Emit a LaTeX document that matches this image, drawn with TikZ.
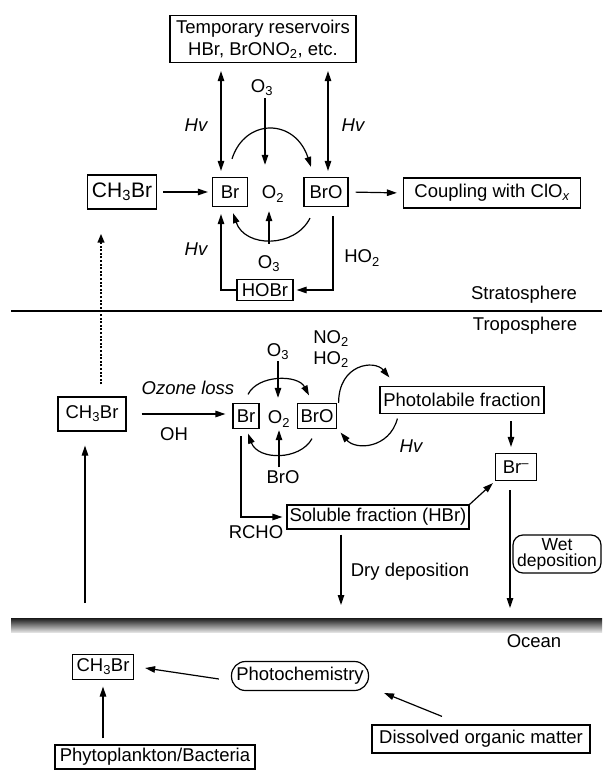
\documentclass[tikz,border=0pt]{standalone}
\usepackage{fontspec}
\setmainfont{Liberation Sans}
\usetikzlibrary{arrows.meta,calc}
\begin{document}
\begin{tikzpicture}[x=1pt,y=-1pt,
  font=\fontsize{18.5}{22}\selectfont,
  every node/.style={inner sep=0pt},
  bx/.style={draw, line width=1.2pt, align=center},
  ln/.style={line width=1.2pt},
  arr/.style={ln, -{Triangle[length=10pt,width=6.5pt]}},
  dbl/.style={ln, {Triangle[length=10pt,width=6.5pt]}-{Triangle[length=10pt,width=6.5pt]}},
  dots/.style={line width=2.2pt, dash pattern=on 2pt off 1.6pt, -{Triangle[length=9pt,width=6.5pt]}},
]
\useasboundingbox (0,0) rectangle (602,770);

% ---------- Stratosphere ----------
\node[bx,minimum width=186pt,minimum height=47pt] (res) at (263,39) {Temporary reservoirs\\HBr, BrONO\textsubscript{2}, etc.};
\node[bx,minimum width=69pt,minimum height=34pt,font=\fontsize{21}{24}\selectfont] (ch3s) at (122,192) {CH\textsubscript{3}Br};
\node[bx,minimum width=35pt,minimum height=29pt] (br) at (230,192) {Br};
\node (o2s) at (273,194) {O\textsubscript{2}};
\node[bx,minimum width=44pt,minimum height=29pt] (bro) at (326,192) {BrO};
\node[bx,minimum width=177pt,minimum height=30pt] (coup) at (492,193) {Coupling with ClO\textsubscript{\itshape x}};
\node (o3a) at (262,88) {O\textsubscript{3}};
\node (hv1) at (196,125) {\itshape Hv};
\node (hv2) at (353,125) {\itshape Hv};
\node (o3b) at (269,264) {O\textsubscript{3}};
\node (hv3) at (196,249) {\itshape Hv};
\node (ho2) at (362,258) {HO\textsubscript{2}};
\node[bx,minimum width=56pt,minimum height=21pt] (hobr) at (265,290) {HOBr};
\node (strat) at (524,295) {Stratosphere};
\node (trop) at (525,326) {Troposphere};

\coordinate (bl) at ([xshift=-9pt]br.north);
\draw[dbl, shorten <=6pt, shorten >=8pt] (bl) -- (bl |- res.south);
\coordinate (brr) at ([xshift=2pt]bro.north);
\draw[dbl, shorten <=6pt, shorten >=8pt] (brr) -- (brr |- res.south);
\coordinate (o3x) at ([xshift=3pt]o3a.south);
\draw[arr, shorten <=2pt, shorten >=21pt] (o3x) -- (o3x |- o2s.north);
\draw[arr] ([xshift=2pt,yshift=18pt]br.north) .. controls +(13,-41) and +(-16,-49) .. ([xshift=-15pt,yshift=10pt]bro.north);
\draw[arr] ([xshift=-16pt,yshift=-11pt]bro.south) .. controls +(-15,30) and +(12,35) .. ([xshift=3pt,yshift=-6pt]br.south);
\coordinate (o3y) at (o3b.north);
\draw[arr, shorten <=12pt, shorten >=9pt] (o3y) -- (o3y |- o2s.south);
\draw[arr, shorten <=6pt, shorten >=4pt] (ch3s.east) -- (br.west);
\draw[arr, shorten <=7pt, shorten >=6pt] (bro.east) -- (coup.west);
\coordinate (bl2) at ([xshift=-9pt]br.south);
\draw[arr, shorten >=7pt] (hobr.west) -| (bl2);
\coordinate (br2) at ([xshift=7pt]bro.south);
\draw[arr, shorten <=9pt, shorten >=3pt] (br2) |- (hobr.east);

\coordinate (sl) at (11,311);
\coordinate (sr) at (602,311);
\draw[ln] (sl) -- (sr);

% ---------- Troposphere ----------
\node[bx,minimum width=68pt,minimum height=34pt] (ch3t) at (92,414) {CH\textsubscript{3}Br};
\node[bx,minimum width=26pt,minimum height=25pt] (brt) at (246,416) {Br};
\node (o2t) at (279,419) {O\textsubscript{2}};
\node[bx,minimum width=39pt,minimum height=25pt] (brot) at (317,416) {BrO};
\node (o3c) at (278,352) {O\textsubscript{3}};
\node[align=center,font=\fontsize{18.5}{21}\selectfont] (nho) at (331,349) {NO\textsubscript{2}\\HO\textsubscript{2}};
\node (oz) at (188,388) {\itshape Ozone loss};
\node (oh) at (174,434) {OH};
\node[bx,minimum width=164pt,minimum height=27pt] (photo) at (462,400) {Photolabile fraction};
\node (hv4) at (411,446) {\itshape Hv};
\node[bx,minimum width=41pt,minimum height=27pt] (brm) at (516,467) {Br\textsuperscript{–}};
\node (brol) at (283,477) {BrO};
\node[bx,minimum width=182pt,minimum height=24pt] (sol) at (378,517) {Soluble fraction (HBr)};
\node (rcho) at (256,532) {RCHO};
\node (dry) at (410,572) {Dry deposition};
\node[bx,rounded corners=10pt,minimum width=88pt,minimum height=38pt,font=\fontsize{17.5}{16}\selectfont] (wet) at (557,554) {Wet\\deposition};

\draw[arr, shorten <=15pt, shorten >=7pt] (ch3t.east) -- (ch3t.east -| brt.west);
\draw[arr] ([xshift=2pt,yshift=8.5pt]brt.north) .. controls +(10,-20) and +(-11,-21) .. ([xshift=-8pt,yshift=7.5pt]brot.north);
\draw[arr, shorten <=1pt, shorten >=13pt] (o3c.south) -- (o3c.south |- o2t.north);
\draw[arr] ([xshift=1.5pt]brot.north east) .. controls +(0,-39) and +(-15,-18) .. ([xshift=10pt,yshift=8.5pt]photo.north west);
\draw[arr] ([xshift=18pt,yshift=-4.5pt]photo.south west) .. controls +(-8,30) and +(15,18) .. ([xshift=3.5pt,yshift=-3.5pt]brot.south east);
\draw[arr] ([xshift=-5pt,yshift=-9.5pt]brot.south) .. controls +(-12,22) and +(10,27) .. ([xshift=2pt,yshift=-4.5pt]brt.south);
\coordinate (bu) at ([xshift=-4pt]brol.north);
\draw[arr, shorten <=3pt, shorten >=3pt] (bu) -- (bu |- o2t.south);
\coordinate (bd) at ([xshift=-5pt]brt.south);
\draw[arr, shorten <=7pt, shorten >=4pt] (bd) |- (sol.west);
\draw[arr] (sol.north east) -- ([xshift=-2pt,yshift=-2pt]brm.south west);
\coordinate (pd) at ([xshift=49pt]photo.south);
\draw[arr, shorten <=7pt, shorten >=6pt] (pd) -- (pd |- brm.north);
\coordinate (dryend) at (341,605);
\draw[arr, shorten <=5pt] (sol.south -| dryend) -- (dryend);
\coordinate (wetend) at (510,608);
\draw[arr, shorten <=9pt] (brm.south -| wetend) -- (wetend);
\coordinate (upst) at (85,603);
\draw[arr, shorten >=14pt] (upst) -- (upst |- ch3t.south);
\coordinate (dt) at ([xshift=9pt]ch3t.north);
\draw[dots, shorten <=12pt, shorten >=24pt] (dt) -- (dt |- ch3s.south);

% ---------- Ocean ----------
\shade[top color=black!90, bottom color=black!12] (11,618) rectangle (602,632);
\node (ocean) at (534,641) {Ocean};
\node[bx,minimum width=61pt,minimum height=25pt] (ch3o) at (103,667) {CH\textsubscript{3}Br};
\node[bx,rounded corners=14pt,minimum width=137pt,minimum height=29pt] (pc) at (300,676) {Photochemistry};
\node[bx,minimum width=218pt,minimum height=28pt] (dom) at (481,739) {Dissolved organic matter};
\node[bx,minimum width=200pt,minimum height=24pt] (phyto) at (155,757) {Phytoplankton/Bacteria};

\draw[arr] ([xshift=-12pt,yshift=-3pt]pc.west) -- ([xshift=11pt,yshift=-1pt]ch3o.east);
\draw[arr] ([xshift=-39pt,yshift=8pt]dom.north) -- ([xshift=15pt,yshift=-17pt]pc.east);
\coordinate (pu) at (phyto.north -| ch3o.south);
\draw[arr, shorten <=6pt, shorten >=6.5pt] (pu) -- (ch3o.south);
\end{tikzpicture}
\end{document}
